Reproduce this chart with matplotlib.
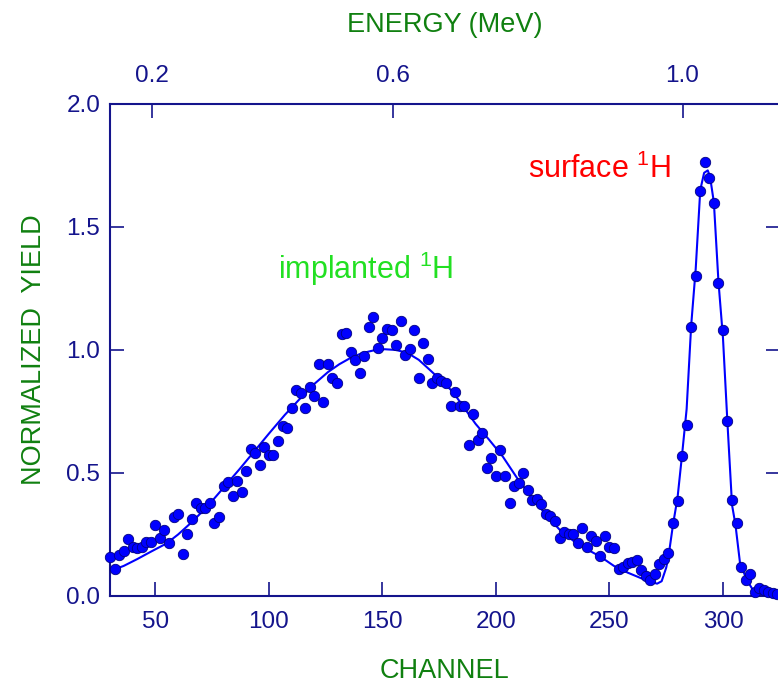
import numpy as np
import matplotlib
matplotlib.use("Agg")
import matplotlib.pyplot as plt

# measured yield (every second channel)
channel = np.arange(30, 326, 2)
yield_data = [
    0.157, 0.108, 0.167, 0.184, 0.233, 0.200, 0.194, 0.198, 0.218, 0.218,
    0.287, 0.237, 0.267, 0.217, 0.320, 0.332, 0.172, 0.251, 0.314, 0.379,
    0.356, 0.356, 0.379, 0.298, 0.322, 0.445, 0.462, 0.408, 0.467, 0.424,
    0.509, 0.596, 0.580, 0.533, 0.604, 0.572, 0.572, 0.630, 0.691, 0.684,
    0.765, 0.837, 0.825, 0.766, 0.848, 0.814, 0.941, 0.790, 0.941, 0.885,
    0.865, 1.065, 1.071, 0.990, 0.960, 0.908, 0.977, 1.093, 1.135, 1.010,
    1.048, 1.087, 1.081, 1.021, 1.119, 0.978, 1.004, 1.081, 0.885, 1.027,
    0.962, 0.865, 0.885, 0.875, 0.867, 0.772, 0.830, 0.772, 0.772, 0.614,
    0.740, 0.634, 0.664, 0.522, 0.560, 0.488, 0.593, 0.488, 0.379, 0.447,
    0.461, 0.499, 0.431, 0.390, 0.393, 0.374, 0.333, 0.327, 0.304, 0.237,
    0.259, 0.251, 0.251, 0.217, 0.278, 0.200, 0.245, 0.222, 0.163, 0.245,
    0.200, 0.194, 0.108, 0.119, 0.133, 0.140, 0.146, 0.106, 0.081, 0.065,
    0.089, 0.130, 0.150, 0.175, 0.297, 0.386, 0.569, 0.696, 1.092, 1.300,
    1.646, 1.765, 1.700, 1.598, 1.271, 1.081, 0.711, 0.390, 0.297, 0.119,
    0.065, 0.089, 0.018, 0.031, 0.024, 0.018, 0.011, 0.008,
]

# fitted curve
fit_channel = [31, 36, 42, 48, 55, 60, 66, 73, 80, 87, 94, 100, 107, 114, 120,
               126, 131, 136, 141, 146, 151, 156, 161, 166, 171, 176, 181, 186,
               191, 197, 203, 210, 216, 222, 228, 234, 240, 246, 252, 258, 264,
               268, 271, 273, 275, 276, 278, 280, 282, 284, 286, 288, 290,
               291.7, 293.3, 294.3, 296, 298, 300, 302, 304, 305.5, 307.5,
               310.5, 313.5, 317, 325]
fit_yield = [0.105, 0.122, 0.150, 0.180, 0.214, 0.250, 0.300, 0.365, 0.440,
             0.515, 0.593, 0.660, 0.736, 0.805, 0.862, 0.910, 0.942, 0.968,
             0.987, 0.998, 1.003, 1.000, 0.988, 0.960, 0.918, 0.875, 0.830,
             0.765, 0.700, 0.635, 0.567, 0.470, 0.400, 0.330, 0.270, 0.225,
             0.190, 0.160, 0.122, 0.095, 0.072, 0.058, 0.050, 0.060, 0.115,
             0.160, 0.290, 0.400, 0.575, 0.760, 1.100, 1.330, 1.650, 1.720,
             1.730, 1.705, 1.600, 1.280, 1.050, 0.700, 0.370, 0.290, 0.135,
             0.065, 0.020, 0.008, 0.003]

energy_labels = ["0.2", "0.6", "1.0"]
energy_channel = [48.6, 154.5, 282.2]

navy = "#14148c"
green = "#108010"

plt.rcParams["font.family"] = ["Liberation Sans", "DejaVu Sans"]

fig = plt.figure(figsize=(7.78, 6.84), dpi=100)
ax = fig.add_axes([0.1414, 0.1287, 0.8608, 0.7193])

ax.plot(fit_channel, fit_yield, color="#0000ff", lw=1.5, zorder=2)
ax.plot(channel, yield_data, "o", ms=7.5, mfc="#0000ff", mec="#000080",
        mew=0.6, zorder=3, clip_on=False)

ax.set_xlim(30, 325)
ax.set_ylim(0, 2.0)
ax.set_xticks([50, 100, 150, 200, 250, 300])
ax.set_yticks([0.0, 0.5, 1.0, 1.5, 2.0])
ax.set_yticklabels(["0.0", "0.5", "1.0", "1.5", "2.0"])
ax.tick_params(direction="in", length=10, width=1.2, colors=navy,
               labelsize=17.5, right=True, pad=7)
ax.tick_params(axis="x", pad=11)
for s in ax.spines.values():
    s.set_color(navy)
    s.set_linewidth(1.5)

ax.set_xlabel("CHANNEL", color=green, fontsize=19.5, labelpad=18)
ax.set_ylabel("NORMALIZED  YIELD", color=green, fontsize=19.5, labelpad=14)

top = ax.twiny()
top.set_xlim(ax.get_xlim())
top.set_xticks(energy_channel)
top.set_xticklabels(energy_labels)
top.tick_params(direction="in", length=10, width=1.2, colors=navy,
                labelsize=17.5, pad=12)
for s in top.spines.values():
    s.set_visible(False)
top.set_xlabel("ENERGY (MeV)", color=green, fontsize=19.5, labelpad=24)

ax.text(104, 1.29, r"implanted $^{\mathregular{1}}$H", color="#22e022",
        fontsize=22)
ax.text(214, 1.70, r"surface $^{\mathregular{1}}$H", color="#ff0000",
        fontsize=22)

fig.savefig("out.png", dpi=100)
